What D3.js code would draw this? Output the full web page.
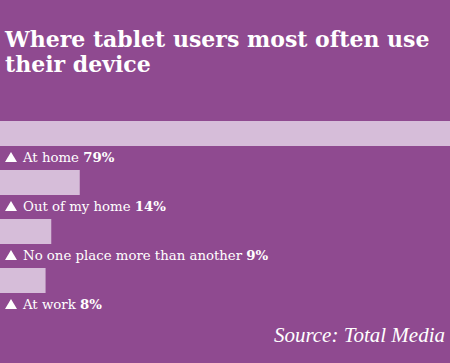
<html>
<style>
  body { margin: 0; background: #8f4a90; }
  svg { display: block; }
</style>
<script src="https://d3js.org/d3.v7.min.js"></script>
<body>
<svg id="chart"></svg>
</body>
<script>
  // data
  const places = ["At home", "Out of my home", "No one place more than another", "At work"]
  const shares = [79, 14, 9, 8]
  const titleLines = ["Where tablet users most often use", "their device"]
  const source = "Source: Total Media"

  const width = 450, height = 363
  const svg = d3.select('#chart').attr('width', width).attr('height', height)

  svg.append('rect').attr('width', width).attr('height', height).attr('fill', '#8f4a90')

  // title
  svg.selectAll('text.title').data(titleLines).enter().append('text')
      .attr('class', 'title')
      .attr('x', 5)
      .attr('y', (d, i) => 47 + i * 25)
      .attr('fill', '#ffffff')
      .style('font-family', '"DejaVu Serif", serif')
      .style('font-weight', 'bold')
      .style('font-size', '22px')
      .text(d => d)

  let x = d3.scaleLinear().domain([0, d3.max(shares)]).range([0, width])
  let y = d3.scaleBand().domain(places).range([121, 317]).paddingInner(0)

  let rows = svg.selectAll('g.row').data(places).enter().append('g')
      .attr('class', 'row')
      .attr('transform', d => `translate(0,${y(d)})`)

  rows.append('rect')
      .attr('x', 0)
      .attr('y', 0)
      .attr('width', (d, i) => x(shares[i]))
      .attr('height', 25)
      .attr('fill', '#d6bdd9')

  rows.append('path')
      .attr('d', 'M5,41 L11,31 L17,41 Z')
      .attr('fill', '#ffffff')

  let lbl = rows.append('text')
      .attr('x', 23)
      .attr('y', 41)
      .attr('fill', '#ffffff')
      .style('font-family', '"DejaVu Serif", serif')
      .style('font-size', '13.3px')
  lbl.append('tspan').text(d => d + ' ')
  lbl.append('tspan').style('font-weight', 'bold').text((d, i) => shares[i] + '%')

  svg.append('text')
      .attr('x', 445)
      .attr('y', 342)
      .attr('text-anchor', 'end')
      .attr('fill', '#ffffff')
      .style('font-family', '"Liberation Serif", serif')
      .style('font-style', 'italic')
      .style('font-size', '21px')
      .text(source)
</script>
</html>
